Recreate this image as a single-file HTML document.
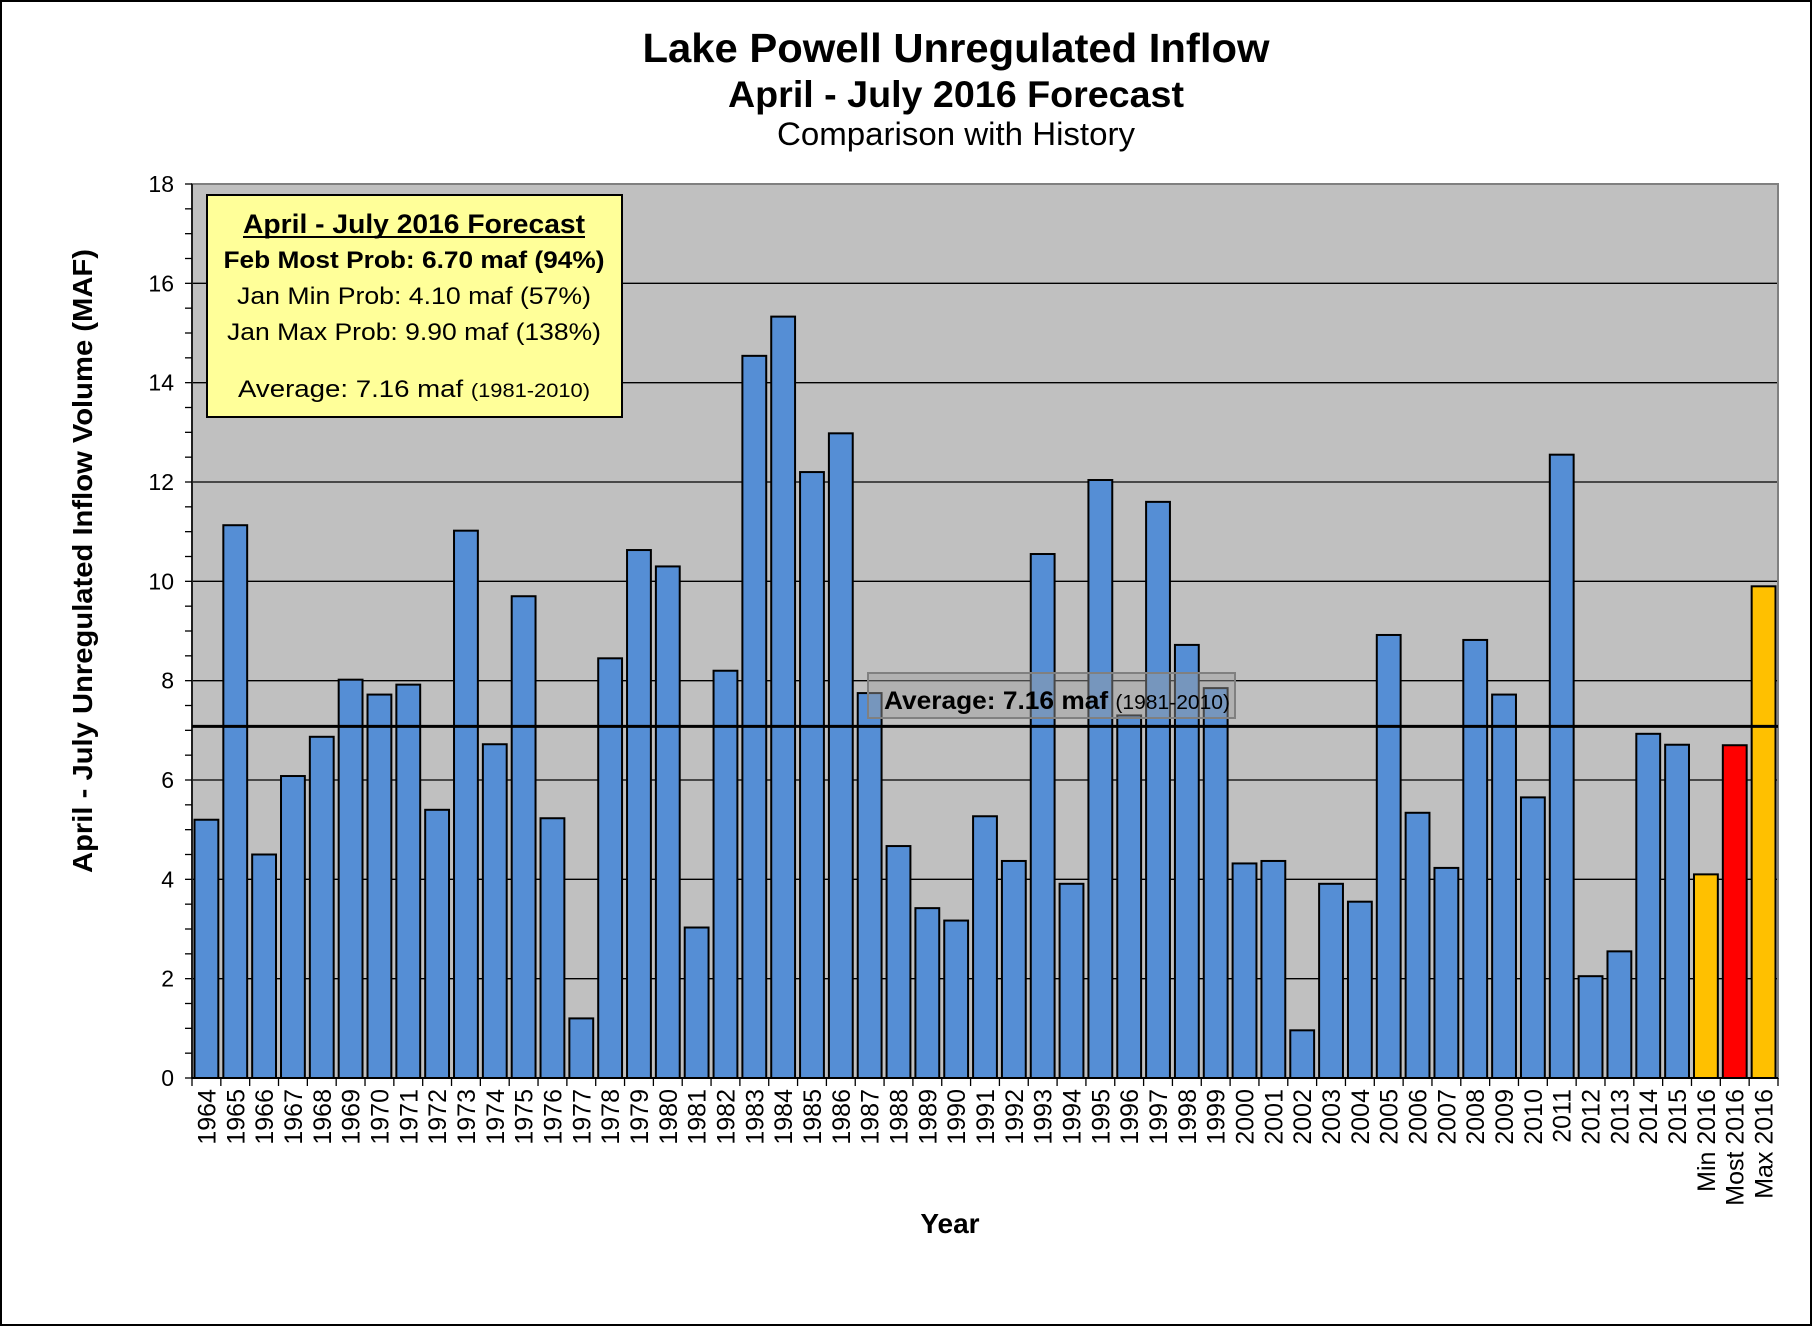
<!DOCTYPE html>
<html><head><meta charset="utf-8"><style>
html,body{margin:0;padding:0;background:#fff}
svg{display:block}
text{font-family:"Liberation Sans",Arial,sans-serif}
</style></head><body>
<svg id="chart" width="1813" height="1327" viewBox="0 0 1813 1327" xmlns="http://www.w3.org/2000/svg">
<rect x="1" y="1" width="1810" height="1324" fill="#fff" stroke="#000" stroke-width="2"/>
<text x="956" y="62" text-anchor="middle" font-size="41" font-weight="bold" textLength="627" lengthAdjust="spacingAndGlyphs">Lake Powell Unregulated Inflow</text>
<text x="956" y="107" text-anchor="middle" font-size="37" font-weight="bold" textLength="456" lengthAdjust="spacingAndGlyphs">April - July 2016 Forecast</text>
<text x="956" y="145" text-anchor="middle" font-size="32" textLength="358" lengthAdjust="spacingAndGlyphs">Comparison with History</text>
<rect x="192" y="184" width="1586" height="894" fill="#c0c0c0"/>
<g id="grid"></g>
<g id="bars"></g>
<g id="axes"></g>
<text transform="translate(92,561) rotate(-90)" text-anchor="middle" font-size="28" font-weight="bold" textLength="624" lengthAdjust="spacingAndGlyphs">April  - July Unregulated Inflow Volume (MAF)</text>
<text x="950" y="1233" text-anchor="middle" font-size="28" font-weight="bold">Year</text>
<g>
<rect x="207" y="195" width="415" height="222" fill="#ffff99" stroke="#000" stroke-width="2"/>
<text x="414" y="233" text-anchor="middle" font-size="27" font-weight="bold" textLength="342" lengthAdjust="spacingAndGlyphs">April - July 2016 Forecast</text>
<line x1="243" y1="237" x2="585" y2="237" stroke="#000" stroke-width="2"/>
<text x="414" y="268" text-anchor="middle" font-size="24" font-weight="bold" textLength="381" lengthAdjust="spacingAndGlyphs">Feb Most Prob:  6.70 maf (94%)</text>
<text x="414" y="304" text-anchor="middle" font-size="24" textLength="354" lengthAdjust="spacingAndGlyphs">Jan Min Prob:  4.10 maf (57%)</text>
<text x="414" y="340" text-anchor="middle" font-size="24" textLength="374" lengthAdjust="spacingAndGlyphs">Jan Max Prob:  9.90 maf (138%)</text>
<text x="414" y="397" text-anchor="middle" font-size="24" textLength="352" lengthAdjust="spacingAndGlyphs">Average:  7.16 maf  <tspan font-size="19">(1981-2010)</tspan></text>
</g>
<g id="avg"></g>
</svg>
<script>
const categories=["1964","1965","1966","1967","1968","1969","1970","1971","1972","1973","1974","1975","1976","1977","1978","1979","1980","1981","1982","1983","1984","1985","1986","1987","1988","1989","1990","1991","1992","1993","1994","1995","1996","1997","1998","1999","2000","2001","2002","2003","2004","2005","2006","2007","2008","2009","2010","2011","2012","2013","2014","2015","Min 2016","Most 2016","Max 2016"];
const values=[5.2,11.13,4.5,6.08,6.87,8.02,7.72,7.92,5.4,11.02,6.72,9.7,5.23,1.2,8.45,10.63,10.3,3.03,8.2,14.54,15.33,12.2,12.98,7.75,4.67,3.42,3.17,5.27,4.37,10.55,3.91,12.04,7.3,11.6,8.72,7.85,4.32,4.37,0.96,3.91,3.55,8.92,5.34,4.23,8.82,7.72,5.65,12.55,2.05,2.55,6.93,6.71,4.1,6.7,9.9];
const barColors=["#558ed5","#558ed5","#558ed5","#558ed5","#558ed5","#558ed5","#558ed5","#558ed5","#558ed5","#558ed5","#558ed5","#558ed5","#558ed5","#558ed5","#558ed5","#558ed5","#558ed5","#558ed5","#558ed5","#558ed5","#558ed5","#558ed5","#558ed5","#558ed5","#558ed5","#558ed5","#558ed5","#558ed5","#558ed5","#558ed5","#558ed5","#558ed5","#558ed5","#558ed5","#558ed5","#558ed5","#558ed5","#558ed5","#558ed5","#558ed5","#558ed5","#558ed5","#558ed5","#558ed5","#558ed5","#558ed5","#558ed5","#558ed5","#558ed5","#558ed5","#558ed5","#558ed5","#ffc000","#ff0000","#ffc000"];
const yTicks=[0,2,4,6,8,10,12,14,16,18];
const averageValue=7.08;
const averageLabel="Average:  7.16 maf ";
const averageLabelSmall="(1981-2010)";

const NS="http://www.w3.org/2000/svg";
const L=192,R=1778,T=184,B=1078,YMAX=18;
const bw=(R-L)/categories.length;
function y(v){return B-(v/YMAX)*(B-T);}
function x(i){return L+i*bw;}
function mk(tag,attrs,parent,txt){const e=document.createElementNS(NS,tag);for(const k in attrs)e.setAttribute(k,attrs[k]);if(txt!==undefined)e.textContent=txt;parent.appendChild(e);return e;}
const grid=document.getElementById('grid'),bars=document.getElementById('bars'),axes=document.getElementById('axes'),avg=document.getElementById('avg');
yTicks.forEach(t=>{
  if(t>0){const g=mk('line',{x1:L,x2:R,y1:y(t),y2:y(t),stroke:'#000','stroke-width':1.3},grid);
  
  }
  const lb=mk('text',{x:174,y:y(t)+8,'text-anchor':'end','font-size':23},axes,String(t));
  
  
});
for(let v=0;v<=YMAX;v+=0.5){mk('line',{x1:L-7,x2:L,y1:y(v),y2:y(v),stroke:'#000','stroke-width':1.3},axes);}
mk('rect',{x:L,y:T,width:R-L,height:B-T,fill:'none',stroke:'#808080','stroke-width':2},grid);
categories.forEach((c,i)=>{
  const r=mk('rect',{x:x(i)+2.5,y:y(values[i]),width:bw-5,height:B-y(values[i]),fill:barColors[i],stroke:'#000','stroke-width':2},bars);
  
  
  mk('line',{x1:x(i),x2:x(i),y1:B,y2:B+8,stroke:'#000','stroke-width':1.3},axes);
  const cx=x(i)+bw/2+9;
  const tl=mk('text',{transform:`translate(${cx},1089) rotate(-90)`,'text-anchor':'end','font-size':25},axes,c);
  
  
});
mk('line',{x1:R,x2:R,y1:B,y2:B+8,stroke:'#000','stroke-width':1.3},axes);
mk('line',{x1:L,x2:L,y1:T,y2:B,stroke:'#000','stroke-width':1.5},axes);
mk('line',{x1:L,x2:R,y1:B,y2:B,stroke:'#000','stroke-width':2},axes);
const al=mk('line',{x1:L,x2:R,y1:y(averageValue),y2:y(averageValue),stroke:'#000','stroke-width':3},avg);


const ab=mk('rect',{x:868,y:673,width:367,height:45,fill:'rgba(160,160,160,0.45)',stroke:'#808080','stroke-width':2},avg);


const at=mk('text',{x:884,y:709,'font-size':25,'font-weight':'bold',textLength:'346',lengthAdjust:'spacingAndGlyphs'},avg);


mk('tspan',{},at,averageLabel);
mk('tspan',{'font-size':20,'font-weight':'normal'},at,averageLabelSmall);
</script>
</body></html>
